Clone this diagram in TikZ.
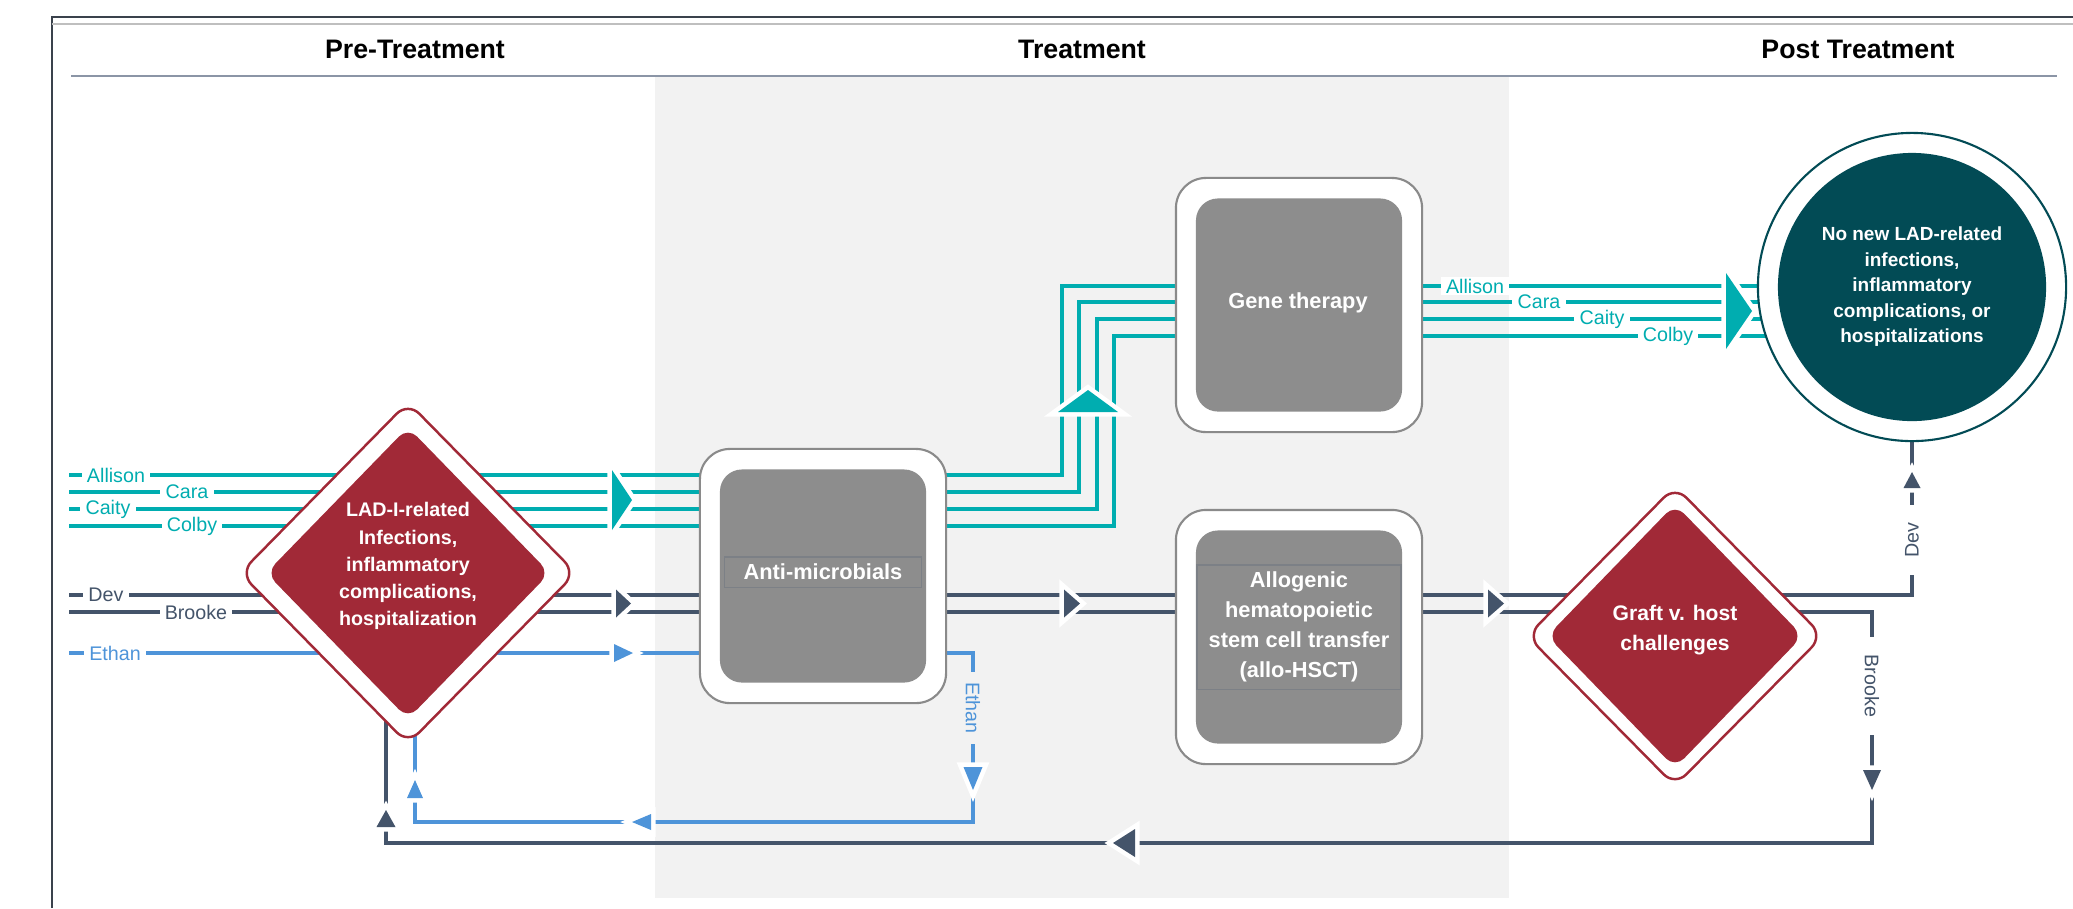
\documentclass[tikz,border=0pt]{standalone}
\usepackage{fontspec}
\setmainfont{Liberation Sans}
\usetikzlibrary{shapes.geometric,calc}

\definecolor{tealc}{RGB}{0,173,176}
\definecolor{slatec}{RGB}{68,84,106}
\definecolor{ethanc}{RGB}{78,148,217}
\definecolor{redc}{RGB}{161,41,55}
\definecolor{deepteal}{RGB}{2,75,85}
\definecolor{boxgray}{RGB}{141,141,141}
\definecolor{boxedge}{RGB}{138,138,138}
\definecolor{bandc}{RGB}{242,242,242}
\definecolor{rulec}{RGB}{139,149,166}
\definecolor{framec}{RGB}{58,66,76}
\definecolor{bandedge}{RGB}{124,128,134}

\pgfdeclarelayer{back}
\pgfdeclarelayer{lines}
\pgfsetlayers{back,lines,main}

% rounded diamond outline, path starts mid-edge so every corner is rounded
\newcommand{\gempath}[1]{($(#1.north)!0.5!(#1.east)$) -- (#1.east) -- (#1.south) -- (#1.west) -- (#1.north) -- cycle}

\tikzset{
  phase/.style={font=\bfseries\fontsize{7.6}{9}\selectfont},
  stage/.style={draw=boxedge, line width=0.6pt, fill=white, rounded corners=0.3cm,
    minimum width=2.46cm, minimum height=2.54cm, inner sep=0},
  core/.style={fill=boxgray, rounded corners=0.22cm, minimum width=2.06cm,
    minimum height=2.13cm, inner sep=0},
  ctext/.style={text=white, align=center, font=\bfseries\fontsize{6.2}{8.5}\selectfont},
  band/.style={draw=bandedge, line width=0.3pt, minimum width=1.96cm, inner ysep=2pt},
  gem/.style={diamond, inner sep=0},
  gemedge/.style={draw=redc, line width=0.7pt, fill=white, rounded corners=0.16cm},
  gemfill/.style={fill=redc, rounded corners=0.13cm},
  gemtext/.style={text=white, align=center, font=\bfseries\fontsize{5.6}{7.7}\selectfont},
  tline/.style={tealc, line width=1.15pt},
  dline/.style={slatec, line width=1.15pt},
  eline/.style={ethanc, line width=1.15pt},
  who/.style={text=#1, fill=white, font=\fontsize{5.6}{6}\selectfont, inner xsep=1.5pt, inner ysep=0.5pt},
  pics/tip/.style n args={3}{code={
    \filldraw[white, line width=2.6pt] (0,-#2) -- (#3,0) -- (0,#2) -- cycle;
    \fill[#1] (0,-#2) -- (#3,0) -- (0,#2) -- cycle;}}
}

\begin{document}
\begin{tikzpicture}[x=0.01cm, y=-0.01cm]
\useasboundingbox (0,0) rectangle (2073,908);

\begin{pgfonlayer}{back}
\fill[bandc] (655,77) rectangle (1509,898);
\draw[framec, line width=0.6pt] (52,908) -- (52,17) -- (2073,17);
\draw[black!25, line width=0.4pt] (52,24) -- (2073,24);
\draw[rulec, line width=0.6pt] (71,76) -- (2057,76);
\end{pgfonlayer}

% column titles
\node[phase] (pre) at (415,49) {Pre-Treatment};
\node[phase] (treat) at (1082,49) {Treatment};
\node[phase] (post) at (1858,49) {Post Treatment};

% pre-treatment diamond
\node[gem, minimum width=3.34cm, minimum height=3.4cm] (ladRing) at (408,573) {};
\node[gem, minimum width=2.82cm, minimum height=2.9cm] (ladCore) at (ladRing) {};
\filldraw[gemedge] \gempath{ladRing};
\fill[gemfill] \gempath{ladCore};
\node[gemtext] (lad) at (408,566) {LAD-I-related\\Infections,\\inflammatory\\complications,\\hospitalization};

% treatment boxes
\node[stage] (antiBox) at (823,576) {};
\node[core] (antiCore) at (antiBox) {};
\node[ctext, band] (anti) at (823,572) {Anti-microbials};

\node[stage] (geneBox) at (1299,305) {};
\node[core] (geneCore) at (geneBox) {};
\node[ctext] (gene) at (1298,303) {Gene therapy};

\node[stage] (alloBox) at (1299,637) {};
\node[core] (alloCore) at (alloBox) {};
\node[ctext, band] (allo) at (1299,627) {Allogenic\\hematopoietic\\stem cell transfer\\(allo-HSCT)};

% post treatment
\node[gem, minimum width=2.94cm, minimum height=2.98cm] (gvhRing) at (1675,636) {};
\node[gem, minimum width=2.54cm, minimum height=2.62cm] (gvhCore) at (gvhRing) {};
\filldraw[gemedge] \gempath{gvhRing};
\fill[gemfill] \gempath{gvhCore};
\node[gemtext, font=\bfseries\fontsize{6}{8.5}\selectfont] (gvh) at (1675,630) {Graft v. host\\challenges};

\node[circle, draw=deepteal, line width=0.6pt, fill=white, minimum size=3.08cm, inner sep=0] (goalRing) at (1912,287) {};
\node[circle, fill=deepteal, minimum size=2.68cm, inner sep=0, text=white, align=center,
  font=\bfseries\fontsize{5.4}{7.25}\selectfont] (goal) at (goalRing) {No new LAD-related\\infections,\\inflammatory\\complications, or\\hospitalizations};

% patient paths
\coordinate (inA) at (69,475);
\coordinate (inC) at (69,492);
\coordinate (inY) at (69,509);
\coordinate (inB) at (69,526);
\coordinate (inD) at (69,595);
\coordinate (inR) at (69,612);
\coordinate (inE) at (69,653);

\begin{pgfonlayer}{lines}
\draw[tline] (inA) -- (1062,475) -- (1062,286) -| (goalRing.center);
\draw[tline] (inC) -- (1079,492) -- (1079,302) -| (goalRing.center);
\draw[tline] (inY) -- (1097,509) -- (1097,319) -| (goalRing.center);
\draw[tline] (inB) -- (1114,526) -- (1114,336) -| (goalRing.center);
\draw[dline] (inD) -| (goalRing);
\draw[dline] (inR) -- (1872,612) |- (386,843) |- (ladRing.center);
\draw[eline] (inE) -- (973,653) |- (415,822) |- (ladRing.center);
\end{pgfonlayer}

% names on the lines
\node[who=tealc] (lA) at (116,475) {Allison};
\node[who=tealc] (lC) at (187,492) {Cara};
\node[who=tealc] (lY) at (108,509) {Caity};
\node[who=tealc] (lB) at (192,526) {Colby};
\node[who=slatec] (lD) at (106,595) {Dev};
\node[who=slatec] (lR) at (196,612) {Brooke};
\node[who=ethanc] (lE) at (115,653) {Ethan};

\node[who=tealc] (rA) at (1475,286) {Allison};
\node[who=tealc] (rC) at (1539,302) {Cara};
\node[who=tealc] (rY) at (1602,319) {Caity};
\node[who=tealc] (rB) at (1668,336) {Colby};

\node[who=slatec, rotate=90, inner xsep=5pt] (vD) at (1912,540) {Dev};
\node[who=slatec, rotate=-90, inner xsep=5pt] (vR) at (1872,686) {Brooke};
\node[who=ethanc, rotate=-90, fill=bandc, inner xsep=3pt] (vE) at (973,708) {Ethan};

% arrow heads
\pic at (612,500) {tip={tealc}{30}{20}};
\pic at (616,603.5) {tip={slatec}{14}{15}};
\pic at (614,653) {tip={ethanc}{9}{19}};
\pic at (1064,603.5) {tip={slatec}{14}{16}};
\pic at (1488,603.5) {tip={slatec}{14}{16}};
\pic[rotate=90] at (1088,412) {tip={tealc}{30}{22}};
\pic at (1726,311) {tip={tealc}{38}{26}};
\pic[rotate=90] at (1912,488) {tip={slatec}{8.5}{16}};
\pic[rotate=-90] at (1872,770) {tip={slatec}{9}{20}};
\pic[rotate=-90] at (973,767) {tip={ethanc}{9.5}{23}};
\pic[rotate=180] at (651,822) {tip={ethanc}{8}{19}};
\pic[rotate=90] at (415,798) {tip={ethanc}{8}{18}};
\pic[rotate=90] at (386,827) {tip={slatec}{9.5}{17}};
\pic[rotate=180] at (1135,843) {tip={slatec}{14}{22}};

\end{tikzpicture}
\end{document}
